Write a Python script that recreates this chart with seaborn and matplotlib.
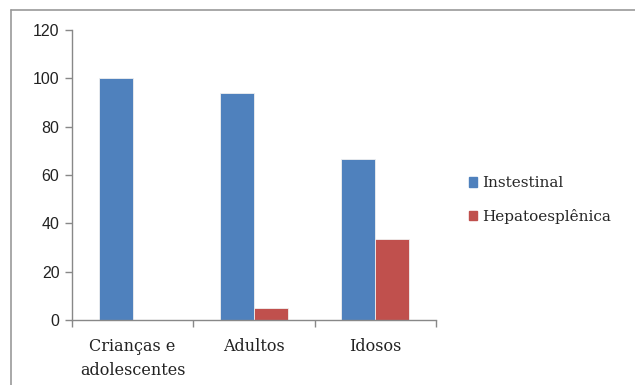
import matplotlib
matplotlib.use("Agg")
import matplotlib.pyplot as plt
import seaborn as sns
import pandas as pd
from matplotlib.lines import Line2D

categories = ["Crianças e\nadolescentes", "Adultos", "Idosos"]
series_names = ["Instestinal", "Hepatoesplênica"]
instestinal = [100, 93.75, 66.67]
hepato = [0, 5.0, 33.33]
yticks = [0, 20, 40, 60, 80, 100, 120]

df = pd.DataFrame({
    "cat": categories * 2,
    "serie": [series_names[0]] * 3 + [series_names[1]] * 3,
    "val": instestinal + hepato,
})

sns.set_style("white")
fig = plt.figure(figsize=(6.35, 3.85), dpi=100)
ax = fig.add_axes([72 / 635, 65 / 385, (436 - 72) / 635, (320 - 30) / 385])

palette = {series_names[0]: "#4F81BD", series_names[1]: "#C0504D"}
sns.barplot(data=df, x="cat", y="val", hue="serie", palette=palette,
            width=0.56, gap=0, saturation=1, ax=ax, legend=False,
            edgecolor="#f0f0f0", linewidth=0.6)

ax.set_ylim(0, 120)
ax.set_xlim(-0.5, 2.5)
ax.set_yticks(yticks)
ax.set_yticklabels([str(v) for v in yticks], fontsize=11.5,
                   family="Liberation Sans", color="#222222")
ax.set_xticks([-0.5, 0.5, 1.5, 2.5])
ax.set_xticklabels([])
ax.set_xticks([0, 1, 2], minor=True)
ax.set_xticklabels(categories, minor=True, fontsize=11.5,
                   family="DejaVu Serif", color="#222222", linespacing=1.55)
ax.tick_params(axis="x", which="minor", length=0, pad=13, bottom=True)
ax.tick_params(axis="x", which="major", length=5, width=1, color="#888888",
               direction="out", bottom=True)
ax.tick_params(axis="y", length=5, width=1, color="#888888", direction="out",
               pad=4, left=True)
ax.set_xlabel("")
ax.set_ylabel("")
for s in ["top", "right"]:
    ax.spines[s].set_visible(False)
for s in ["left", "bottom"]:
    ax.spines[s].set_color("#888888")
    ax.spines[s].set_linewidth(1.0)

# Outer chart border (top and left edges visible)
fig.add_artist(Line2D([11 / 635, 1.0], [1 - 10 / 385, 1 - 10 / 385],
                      color="#999999", lw=1.2, transform=fig.transFigure))
fig.add_artist(Line2D([11 / 635, 11 / 635], [0, 1 - 10 / 385],
                      color="#999999", lw=1.2, transform=fig.transFigure))

# Legend
handles = [plt.Rectangle((0, 0), 1, 1, color=palette[n]) for n in series_names]
fig.legend(handles, series_names, loc="center left",
           bbox_to_anchor=(455 / 635, 1 - 200 / 385), frameon=False,
           prop={"family": "DejaVu Serif", "size": 11},
           handlelength=0.55, handleheight=0.55, handletextpad=0.3,
           labelspacing=1.2)

fig.savefig("out.png", dpi=100)
